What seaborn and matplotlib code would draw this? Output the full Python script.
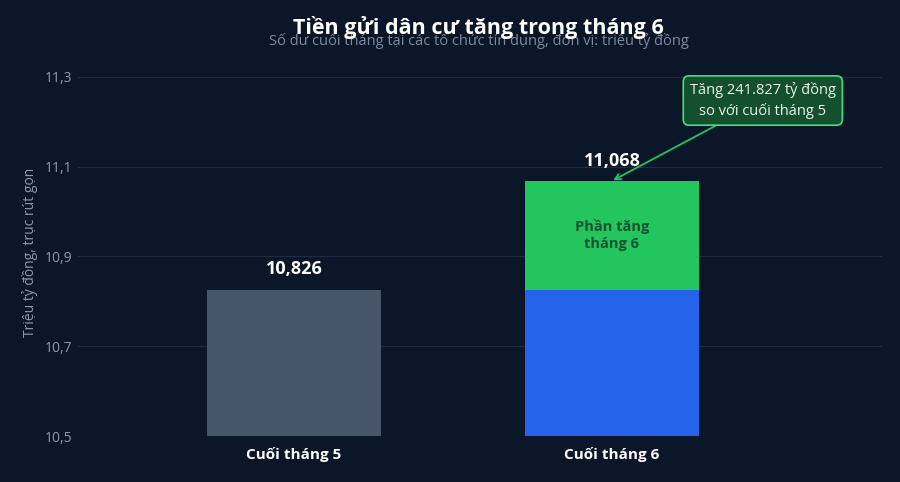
import numpy as np
import pandas as pd
import matplotlib
matplotlib.use("Agg")
import matplotlib.pyplot as plt
import seaborn as sns

# data (trillion VND, deposits of residents)
months = ["Cuối tháng 5", "Cuối tháng 6"]
totals = [10.826, 11.068]
base_may = 10.826
y_ticks = [10.5, 10.7, 10.9, 11.1, 11.3]
increase_text = "Tăng 241.827 tỷ đồng\nso với cuối tháng 5"

BG = "#0b1628"
GRID = "#1f2b3e"
MUTED = "#8d9bb0"

sns.set_theme(style="dark")
plt.rcParams["font.family"] = ["Open Sans", "DejaVu Sans"]

fig = plt.figure(figsize=(9, 4.82), dpi=100, facecolor=BG)
ax = fig.add_axes([0.0867, 0.0954, 0.8933, 0.764])
ax.set_facecolor(BG)

df = pd.DataFrame({"month": months, "value": totals})
sns.barplot(data=df, x="month", y="value", hue="month", saturation=1,
            palette=["#475569", "#22c55e"], width=0.547, legend=False,
            edgecolor="none", linewidth=0, ax=ax)
# blue base of June bar = May level
ax.bar(1, base_may - 10.5, bottom=10.5, width=0.547, color="#2563eb",
       linewidth=0, zorder=3)

ax.set_ylim(10.5, 11.32)
ax.set_xlim(-0.68, 1.85)
ax.set_yticks(y_ticks)
ax.set_yticklabels([f"{t:.1f}".replace(".", ",") for t in y_ticks],
                   color=MUTED, fontsize=10)
ax.yaxis.grid(True, color=GRID, linewidth=0.9)
ax.xaxis.grid(False)
ax.set_axisbelow(True)
for s in ax.spines.values():
    s.set_visible(False)
ax.tick_params(axis="both", length=0, pad=8)
ax.tick_params(axis="y", pad=4)
for lab in ax.get_xticklabels():
    lab.set_color("white")
    lab.set_fontweight("bold")
    lab.set_fontsize(11)
ax.set_xlabel("")
ax.set_ylabel("Triệu tỷ đồng, trục rút gọn", color=MUTED, fontsize=10, labelpad=5)

# value labels
for i, v in enumerate(totals):
    ax.text(i, v + 0.045, f"{v:.3f}".replace(".", ","), ha="center", va="center",
            color="white", fontsize=13, fontweight="bold")

ax.text(1, (base_may + totals[1]) / 2, "Phần tăng\ntháng 6", ha="center", va="center",
        color="#14532d", fontsize=10.5, fontweight="bold", linespacing=1.3, zorder=4)

ax.annotate(increase_text, xy=(1.0, totals[1]), xytext=(1.475, 11.247),
            ha="center", va="center", color="#e8f5ec", fontsize=10.5, linespacing=1.35,
            bbox=dict(boxstyle="round,pad=0.45,rounding_size=0.4", fc="#15502e",
                      ec="#4ade80", lw=1.2),
            arrowprops=dict(arrowstyle="->", color="#22c55e", lw=1.3,
                            shrinkA=0, shrinkB=1))

fig.text(0.532, 0.915, "Số dư cuối tháng tại các tổ chức tín dụng, đơn vị: triệu tỷ đồng",
         ha="center", va="center", color="#7d8a9e", fontsize=10.5)
fig.text(0.532, 0.942, "Tiền gửi dân cư tăng trong tháng 6", ha="center", va="center",
         color="white", fontsize=15.5, fontweight="bold")

fig.savefig("out.png", dpi=100, facecolor=BG)
